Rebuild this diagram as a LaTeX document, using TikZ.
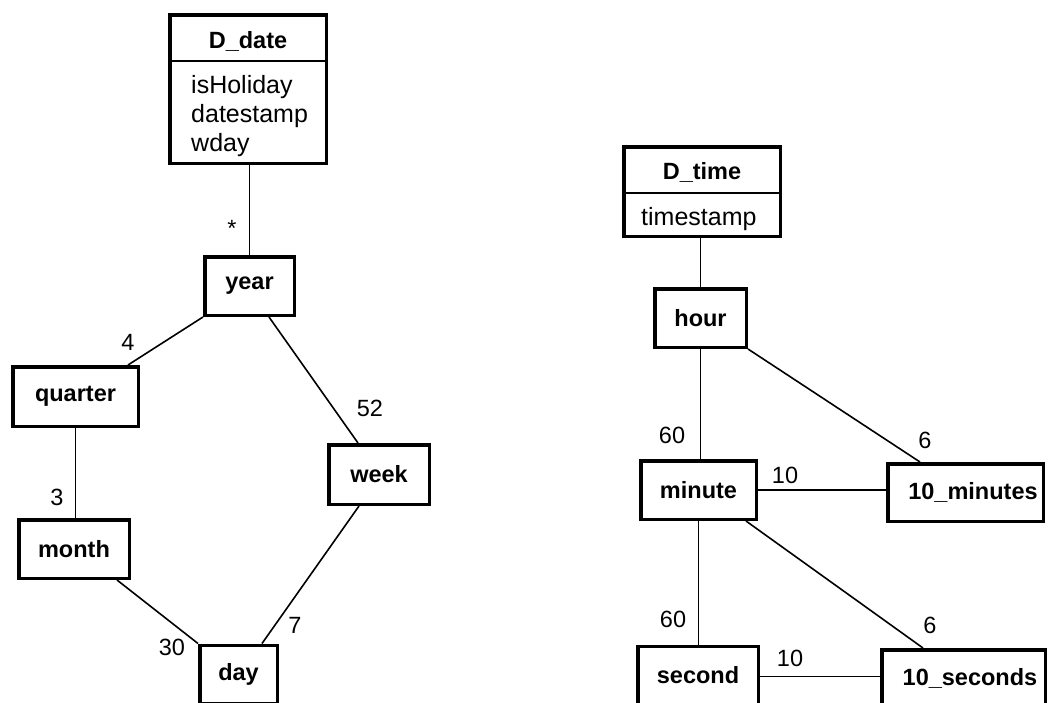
\documentclass[tikz,border=0pt]{standalone}
\usepackage{fontspec}
\setmainfont{Liberation Sans}
\begin{document}
\begin{tikzpicture}[x=1pt,y=-1pt,
  box/.style={draw, line width=3.5pt, inner sep=0pt, font=\fontsize{23.5}{28}\selectfont\bfseries},
  frame/.style={draw, line width=3.5pt, inner sep=0pt},
  head/.style={inner sep=0pt, anchor=base, font=\fontsize{23.5}{28}\selectfont\bfseries},
  attr/.style={inner sep=0pt, anchor=base west, font=\fontsize{25}{30}\selectfont},
  sep/.style={line width=1.5pt},
  link/.style={line width=1.6pt},
  num/.style={inner sep=0pt, font=\fontsize{23.5}{28}\selectfont}]

\useasboundingbox (0,0) rectangle (1050,702);
\clip (0,0) rectangle (1050,702);
\fill[white] (0,0) rectangle (1050,702);

% ---------- date dimension ----------
\node[frame, minimum width=156.5pt, minimum height=148.5pt] (ddate) at (248,89) {};
\node[head] (ddatehead) at (248,48.5) {D\_date};
\draw[sep] (ddate.west |- 0,61) -- (ddate.east |- 0,61);
\node[attr] (isholiday) at (191,93) {isHoliday};
\node[attr] (datestamp) at (191,122) {datestamp};
\node[attr] (wday) at (191,151.5) {wday};

\node[box, minimum width=89.5pt, minimum height=58.5pt] (year) at (249.5,286) {year};
\node[box, minimum width=125.5pt, minimum height=59.5pt] (quarter) at (75.5,396.5) {quarter};
\node[box, minimum width=100.5pt, minimum height=59.5pt] (week) at (379,474.5) {week};
\node[box, minimum width=110.5pt, minimum height=58.5pt] (month) at (74,549) {month};
\node[box, minimum width=77.5pt, minimum height=58.5pt] (day) at (238.5,674.5) {day};

\draw[link] (ddate.south -| year.north) -- (year.north);
\draw[link] (year.south west) -- ([xshift=-12pt]quarter.north east);
\draw[link] ([xshift=19.5pt]year.south) -- ([xshift=-21pt]week.north);
\draw[link] (quarter.south) -- (quarter.south |- month.north);
\draw[link] ([xshift=-14pt]month.south east) -- (day.north west);
\draw[link] ([xshift=-20pt]week.south) -- ([xshift=23.5pt]day.north);

\node[num] (mstar) at (232,228) {*};
\node[num] (m4) at (128,342) {4};
\node[num] (m52) at (370,408) {52};
\node[num] (m3) at (57,497) {3};
\node[num] (m30) at (172,647) {30};
\node[num] (m7) at (295,625) {7};

% ---------- time dimension ----------
\node[frame, minimum width=156.5pt, minimum height=89.5pt] (dtime) at (702,191.5) {};
\node[head] (dtimehead) at (702,179.5) {D\_time};
\draw[sep] (dtime.west |- 0,193) -- (dtime.east |- 0,193);
\node[attr] (timestamp) at (641,225) {timestamp};

\node[box, minimum width=91.5pt, minimum height=58.5pt] (hour) at (700.5,318) {hour};
\node[box, minimum width=115.5pt, minimum height=58.5pt] (minute) at (698.5,490) {minute};
\node[box, minimum width=155.5pt, minimum height=57.5pt] (tenmin) at (965.5,492.5) {\hspace*{15pt}10\_minutes};
\node[box, minimum width=120.5pt, minimum height=58.5pt] (second) at (698,675.5) {second};
\node[box, minimum width=163.5pt, minimum height=57.5pt] (tensec) at (963.5,678.5) {\hspace*{13pt}10\_seconds};

\draw[link] (dtime.south -| hour.north) -- (hour.north);
\draw[link] (hour.south) -- (hour.south |- minute.north);
\draw[link] (hour.south east) -- ([xshift=-45.5pt]tenmin.north);
\draw[link] (minute.east) -- (minute.east -| tenmin.west);
\draw[link] (minute.south) -- (minute.south |- second.north);
\draw[link] ([xshift=-12pt]minute.south east) -- ([xshift=-40.5pt]tensec.north);
\draw[link] ([yshift=-1pt]second.east) -- ([yshift=-1pt]second.east -| tensec.west);

\node[num] (h60) at (672,435) {60};
\node[num] (h6) at (925,440) {6};
\node[num] (m10) at (785,475) {10};
\node[num] (s60) at (673,619) {60};
\node[num] (s6) at (930,625) {6};
\node[num] (s10) at (790,658) {10};
\end{tikzpicture}
\end{document}
